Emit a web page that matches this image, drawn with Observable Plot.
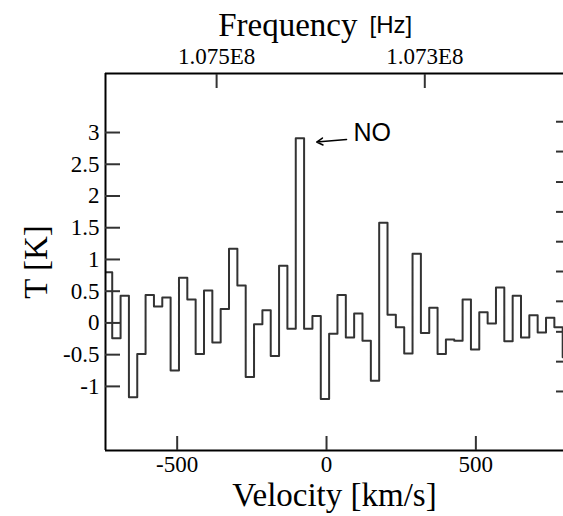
<!DOCTYPE html>
<html><head><meta charset="utf-8">
<script src="https://cdn.jsdelivr.net/npm/d3@7"></script>
<script src="https://cdn.jsdelivr.net/npm/@observablehq/plot@0.6"></script>
<style>body{margin:0;background:#fff}</style>
</head><body><div id="chart"></div>
<script>
// start velocity of each spectral channel (km/s)
const channelVelocity = [-745.4,-717.5,-689.5,-661.6,-633.7,-605.8,-577.8,-549.9,-522.0,-494.0,
  -466.1,-438.2,-410.2,-382.3,-354.4,-326.5,-298.5,-270.6,-242.7,-214.7,
  -186.8,-158.9,-131.0,-103.0,-75.1,-47.2,-19.2,8.7,36.6,64.6,
  92.5,120.4,148.4,176.3,204.2,232.1,260.1,288.0,315.9,343.9,
  371.8,399.7,427.6,455.6,483.5,511.4,539.4,567.3,595.2,623.2,
  651.1,679.0,706.9,734.9,762.8,790.7];
const channelEndVelocity = 818.6;
// brightness temperature of each channel (K)
const temperature = [0.80,-0.24,0.43,-1.17,-0.49,0.44,0.26,0.40,-0.75,0.71,
  0.37,-0.49,0.51,-0.31,0.22,1.17,0.59,-0.85,-0.02,0.20,
  -0.52,0.90,-0.09,2.91,-0.09,0.11,-1.20,-0.17,0.44,-0.23,
  0.15,-0.28,-0.91,1.58,0.13,-0.07,-0.48,1.09,-0.16,0.24,
  -0.49,-0.26,-0.28,0.37,-0.42,0.17,-0.01,0.56,-0.29,0.43,
  -0.23,0.12,-0.15,0.08,-0.07,-0.54];

const xTicks = [-500, 0, 500];
const xTickLabels = ["-500", "0", "500"];
const yTicks = [-1, -0.5, 0, 0.5, 1, 1.5, 2, 2.5, 3];
const yTickLabels = ["-1", "-0.5", "0", "0.5", "1", "1.5", "2", "2.5", "3"];
const rightTicks = [3.17, 2.70, 2.22, 1.75, 1.28, 0.81, 0.34, -0.14, -0.61, -1.08];
const freqTickVelocity = [-368, 329];
const freqTickLabels = ["1.075E8", "1.073E8"];
const xDomain = [-740, 793.4];
const yDomain = [-2.01, 3.93];
const annotationLabel = [{label: "NO", x: 90, y: 2.99}];
const annotationArrow = [{x1: 67, y1: 2.89, x2: -33, y2: 2.85}];

const steps = channelVelocity.map((v, i) => ({v, t: temperature[i]}));
steps.push({v: channelEndVelocity, t: temperature[temperature.length - 1]});

const serif = "Liberation Serif";
const sans = "Liberation Sans";
const tickColor = "#333";

const chart = Plot.plot({
  width: 563,
  height: 516,
  marginLeft: 105,
  marginRight: 0,
  marginTop: 73,
  marginBottom: 66,
  style: {fontFamily: serif, fontSize: "23px", background: "white", color: "black", overflow: "hidden"},
  x: {domain: xDomain},
  y: {domain: yDomain},
  marks: [
    Plot.line(steps, {x: "v", y: "t", curve: "step-after", stroke: "#333", strokeWidth: 2, clip: true}),
    Plot.ruleX([xDomain[0]], {stroke: "black", strokeWidth: 2}),
    Plot.ruleY([yDomain[0], yDomain[1]], {stroke: "black", strokeWidth: 2}),
    // inward ticks
    Plot.axisY(yTicks, {anchor: "left", tickSize: -15, fill: "none", stroke: tickColor, strokeWidth: 2, label: null}),
    Plot.axisY(rightTicks, {anchor: "right", tickSize: -8, fill: "none", stroke: tickColor, strokeWidth: 2, label: null}),
    Plot.axisX(xTicks, {anchor: "bottom", tickSize: -14, fill: "none", stroke: tickColor, strokeWidth: 2, label: null}),
    Plot.axisX(freqTickVelocity, {anchor: "top", tickSize: -14, fill: "none", stroke: tickColor, strokeWidth: 2, label: null}),
    // tick labels
    Plot.text(yTicks, {y: d => d, text: (d, i) => yTickLabels[i], frameAnchor: "left", textAnchor: "end", lineAnchor: "middle", dx: -6, fontSize: 23, fontFamily: serif, fill: "black"}),
    Plot.text(xTicks, {x: d => d, text: (d, i) => xTickLabels[i], frameAnchor: "bottom", lineAnchor: "top", dy: 5, fontSize: 23, fontFamily: serif, fill: "black"}),
    Plot.text(freqTickVelocity, {x: d => d, text: (d, i) => freqTickLabels[i], frameAnchor: "top", lineAnchor: "bottom", dy: -10, fontSize: 23, fontFamily: serif, fill: "black"}),
    // axis titles
    Plot.text(["Velocity [km/s]"], {frameAnchor: "bottom", lineAnchor: "bottom", dy: 55, fontSize: 33, fontFamily: serif, fill: "black"}),
    Plot.text(["T [K]"], {frameAnchor: "left", rotate: -90, dx: -69, lineAnchor: "middle", textAnchor: "middle", fontSize: 33, fontFamily: serif, fill: "black"}),
    Plot.text(["Frequency"], {frameAnchor: "top", lineAnchor: "bottom", textAnchor: "end", dx: 23, dy: -38, fontSize: 33, fontFamily: serif, fill: "black"}),
    Plot.text(["[Hz]"], {frameAnchor: "top", lineAnchor: "bottom", textAnchor: "start", dx: 35, dy: -41, fontSize: 24, fontFamily: sans, fill: "black"}),
    // annotation
    Plot.arrow(annotationArrow, {x1: "x1", y1: "y1", x2: "x2", y2: "y2", stroke: "black", strokeWidth: 1.5, headLength: 7}),
    Plot.text(annotationLabel, {x: "x", y: "y", text: "label", textAnchor: "start", lineAnchor: "middle", fontSize: 25, fontFamily: sans, fill: "black"})
  ]
});
document.getElementById("chart").appendChild(chart);
</script>
</body></html>
